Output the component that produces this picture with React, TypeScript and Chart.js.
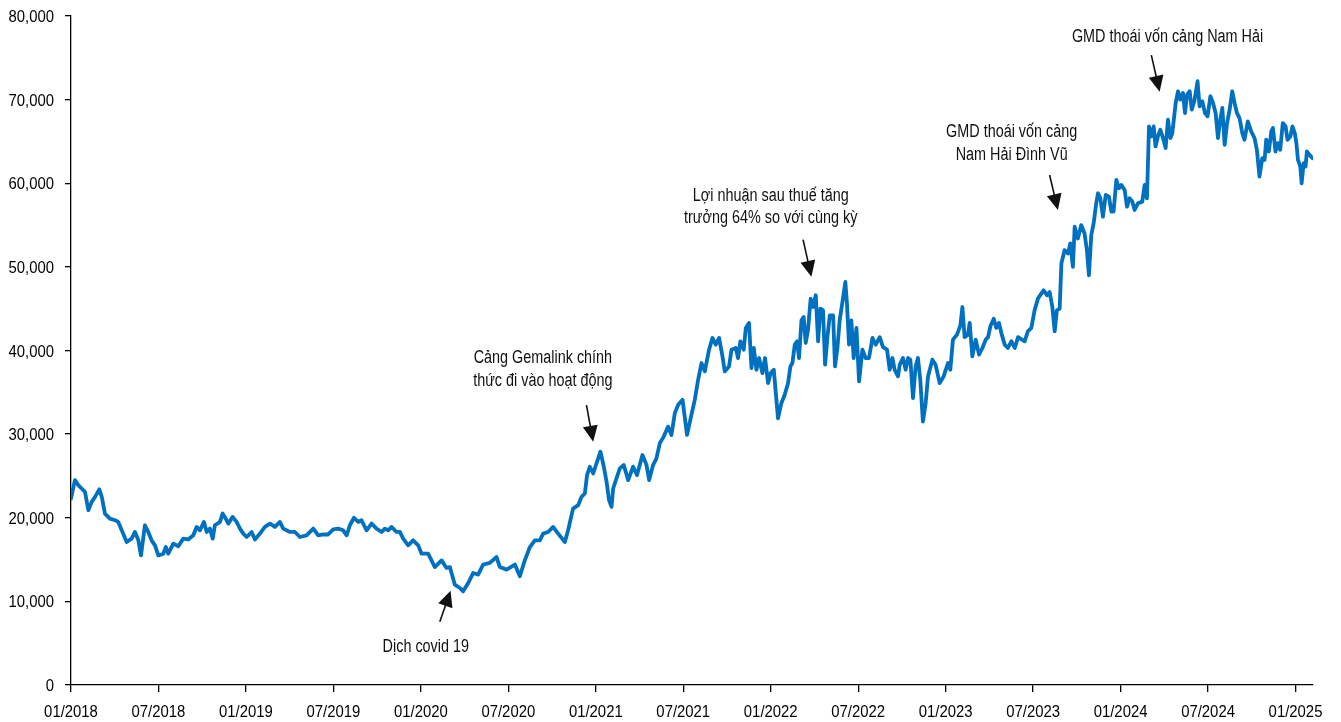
import React, { useEffect, useRef } from "react";
import { Chart, registerables } from "chart.js";

Chart.register(...registerables);

// ---- Axis labels ----
const xTickLabels = [
  "01/2018", "07/2018", "01/2019", "07/2019", "01/2020", "07/2020", "01/2021",
  "07/2021", "01/2022", "07/2022", "01/2023", "07/2023", "01/2024", "07/2024", "01/2025",
];
const yTickValues = [0, 10000, 20000, 30000, 40000, 50000, 60000, 70000, 80000];

// ---- Series: x = months since 01/2018, y = price (VND) ----
const months2018_2019 = [
  0.0, 0.27, 0.5, 0.73, 0.96, 1.19, 1.42, 1.65, 1.94, 2.11, 2.33, 2.67, 3.02, 3.24, 3.48, 3.82, 4.16, 4.39, 4.62, 4.8,
  5.07, 5.3, 5.53, 5.76, 5.99, 6.33, 6.51, 6.67, 7.02, 7.36, 7.7, 8.04, 8.39, 8.62, 8.85, 9.12, 9.31, 9.53, 9.72, 9.87,
  10.22, 10.4, 10.61, 10.79, 11.09, 11.36, 11.59, 11.82, 12.05, 12.39, 12.62, 12.96, 13.3, 13.65, 13.99, 14.33, 14.56,
  15.02, 15.36, 15.7, 16.16, 16.62, 16.96, 17.3, 17.64, 17.99, 18.33, 18.67, 18.91, 19.13, 19.41, 19.7, 19.93, 20.28,
  20.62, 20.96, 21.31, 21.53, 21.76, 21.99, 22.33, 22.56, 22.79, 23.13, 23.47, 23.82,
];
const prices2018_2019 = [
  22300, 24500, 23900, 23500, 23100, 20900, 21900, 22500, 23400, 22500, 20500, 19900, 19700, 19500, 18500, 17100, 17500,
  18300, 17300, 15500, 19100, 18300, 17300, 16700, 15500, 15700, 16500, 15700, 16900, 16600, 17500, 17400, 17900, 18900,
  18500, 19500, 18300, 18700, 17500, 19100, 19500, 20500, 19900, 19300, 20100, 19500, 18700, 18100, 17700, 18300, 17400,
  18100, 18900, 19300, 18900, 19500, 18700, 18300, 18300, 17700, 17900, 18700, 17900, 18000, 18000, 18600, 18700, 18500,
  17900, 19100, 20000, 19500, 19700, 18500, 19300, 18700, 18300, 18700, 18500, 18900, 18300, 18300, 17500, 16700, 17300,
  16700,
];

const months2020_2021 = [
  24.05, 24.5, 24.96, 25.42, 25.76, 25.99, 26.33, 26.68, 26.9, 27.25, 27.59, 27.93, 28.27, 28.73, 29.19, 29.42, 29.88,
  30.45, 30.79, 31.13, 31.48, 31.82, 32.16, 32.39, 32.73, 33.07, 33.42, 33.88, 34.1, 34.44, 34.79, 35.02, 35.25, 35.4,
  35.59, 35.82, 36.05, 36.32, 36.55, 36.74, 36.91, 37.08, 37.19, 37.42, 37.65, 37.92, 38.22, 38.56, 38.83, 39.2, 39.48,
  39.66, 39.93, 40.16, 40.39, 40.66, 40.96, 41.19, 41.42, 41.65, 41.95, 42.26, 42.56, 42.79, 43.02, 43.25, 43.48,
];
const prices2020_2021 = [
  15700, 15700, 14100, 14900, 14000, 14100, 12000, 11600, 11200, 12200, 13400, 13200, 14400, 14600, 15300, 14100, 13800,
  14400, 13000, 14900, 16500, 17300, 17300, 18100, 18300, 18900, 18100, 17100, 18500, 21100, 21500, 22500, 22900, 25100,
  26100, 25300, 26500, 27900, 26100, 24300, 22100, 21300, 23500, 24700, 25900, 26300, 24500, 26100, 25100, 27500, 26300,
  24500, 26300, 27100, 28900, 29700, 30900, 29900, 32500, 33500, 34100, 29900, 32300, 34100, 36500, 38500, 37500,
];

const months2021_2023 = [
  43.77, 44.0, 44.23, 44.46, 44.69, 44.85, 45.14, 45.31, 45.6, 45.76, 45.92, 46.15, 46.29, 46.51, 46.68, 46.84, 47.02,
  47.2, 47.43, 47.61, 47.82, 48.0, 48.21, 48.5, 48.73, 48.96, 49.19, 49.35, 49.49, 49.65, 49.81, 49.94, 50.11, 50.26,
  50.4, 50.56, 50.74, 50.9, 51.09, 51.25, 51.41, 51.59, 51.73, 51.89, 52.05, 52.28, 52.41, 52.58, 52.73, 52.92, 53.12,
  53.23, 53.37, 53.53, 53.69, 53.88, 54.06, 54.29, 54.51, 54.74, 54.98, 55.2, 55.48, 55.7, 55.98, 56.16, 56.35, 56.5,
  56.73, 56.85, 57.07, 57.26, 57.42, 57.58, 57.76, 57.94, 58.1, 58.26, 58.44, 58.63, 58.79, 59.09, 59.31, 59.59, 59.86,
  60.16, 60.32, 60.5, 60.78, 61.01, 61.15, 61.3, 61.53, 61.65, 61.83, 62.06, 62.29, 62.52, 62.75, 62.91, 63.07, 63.3,
  63.48, 63.66, 63.82, 64.05, 64.27, 64.51, 64.74, 64.97,
];
const prices2021_2023 = [
  40100, 41500, 40700, 41500, 39300, 37500, 38100, 40100, 40300, 39100, 41100, 40100, 42700, 43300, 37900, 40300, 37700,
  39100, 37300, 39100, 36100, 37300, 37700, 31900, 33700, 34700, 36100, 38100, 38500, 40700, 41100, 39100, 43600, 44000,
  40900, 42500, 46200, 45200, 46600, 41100, 45000, 44800, 38300, 41600, 44200, 44200, 38100, 40400, 43600, 45800, 48200,
  45600, 40700, 43600, 39100, 42700, 36300, 40100, 39100, 39100, 41500, 40700, 41600, 40400, 40100, 37700, 39100, 37700,
  36900, 38300, 39100, 37700, 39100, 38900, 34300, 38100, 39100, 36500, 31500, 33700, 36900, 38900, 38300, 36100, 36900,
  38500, 37700, 41300, 41900, 43000, 45200, 41600, 41900, 43300, 39300, 41300, 39500, 40300, 41300, 41600, 42900, 43800,
  42700, 43300, 42100, 40700, 40300, 41100, 40300, 41600,
];

const months2023_2025 = [
  65.42, 65.64, 65.88, 66.1, 66.33, 66.56, 66.72, 66.95, 67.13, 67.32, 67.48, 67.63, 67.82, 67.94, 68.16, 68.39, 68.55,
  68.73, 68.85, 69.07, 69.3, 69.53, 69.69, 69.83, 69.99, 70.15, 70.33, 70.45, 70.61, 70.79, 70.98, 71.2, 71.37, 71.52,
  71.71, 71.88, 72.05, 72.28, 72.44, 72.62, 72.81, 72.96, 73.19, 73.49, 73.65, 73.81, 73.95, 74.11, 74.27, 74.4, 74.56,
  74.73, 74.91, 75.09, 75.25, 75.42, 75.55, 75.78, 75.94, 76.1, 76.28, 76.42, 76.56, 76.74, 76.88, 77.06, 77.28, 77.42,
  77.61, 77.79, 77.97, 78.16, 78.34, 78.52, 78.68, 78.84, 78.98, 79.14, 79.29, 79.48, 79.66, 79.82, 79.98, 80.16, 80.35,
  80.5, 80.73, 80.96, 81.19, 81.35, 81.53, 81.72, 81.88, 81.99, 82.17, 82.34, 82.45, 82.63, 82.79, 82.95, 83.13, 83.32,
  83.45, 83.65, 83.79, 83.95, 84.06, 84.17, 84.33, 84.42, 84.56, 84.69, 84.78, 84.96, 85.15,
];
const prices2023_2025 = [
  41100, 42300, 42700, 44800, 46200, 46800, 47200, 46600, 47000, 45200, 42300, 44800, 45000, 50400, 52000, 51600, 52800,
  50000, 54800, 53400, 55000, 54000, 52000, 49000, 53800, 55200, 57600, 58800, 58200, 56000, 58600, 58400, 56600, 56600,
  60400, 59400, 59800, 59200, 57200, 58200, 57800, 56800, 57600, 57800, 59800, 58200, 66800, 65600, 66800, 64400, 65600,
  66400, 65400, 64200, 67600, 65400, 66000, 69600, 71000, 70000, 70800, 68400, 70600, 71000, 68800, 69800, 72200, 69200,
  69800, 68400, 68000, 70400, 69600, 68400, 65400, 67600, 69000, 64600, 67000, 68800, 71000, 69600, 68400, 67800, 66000,
  65200, 67400, 66200, 65400, 64000, 60800, 63000, 62800, 65200, 63800, 66200, 66600, 63800, 64800, 64000, 67200, 66800,
  65200, 65600, 66800, 66000, 64800, 62800, 62000, 60000, 62400, 62000, 63800, 63400, 63000,
];

// ---- Annotations (anchored in data space: [month, price]) ----
const annotationTexts: string[][] = [
  ["Dịch covid 19"],
  ["Cảng Gemalink chính", "thức đi vào hoạt động"],
  ["Lợi nhuận sau thuế tăng", "trưởng 64% so với cùng kỳ"],
  ["GMD thoái vốn cảng", "Nam Hải Đình Vũ"],
  ["GMD thoái vốn cảng Nam Hải"],
];
const annotationTextAnchors: [number, number][] = [
  [24.34, 3950],
  [32.37, 38500],
  [48.0, 57880],
  [64.53, 65530],
  [75.22, 76950],
];
const arrowStarts: [number, number][] = [
  [25.3, 7570],
  [35.36, 33480],
  [50.22, 53250],
  [67.13, 60990],
  [74.11, 75330],
];
const arrowTips: [number, number][] = [
  [26.04, 11280],
  [35.82, 29090],
  [50.79, 48820],
  [67.7, 56800],
  [74.68, 70950],
];

const allMonths = [...months2018_2019, ...months2020_2021, ...months2021_2023, ...months2023_2025];
const allPrices = [...prices2018_2019, ...prices2020_2021, ...prices2021_2023, ...prices2023_2025];

const FONT = "'Liberation Sans', Arial, sans-serif";

function drawSqueezed(ctx: any, text: string, x: number, y: number, sx: number) {
  ctx.save();
  ctx.translate(x, y);
  ctx.scale(sx, 1);
  ctx.fillText(text, 0, 0);
  ctx.restore();
}

// Axis tick labels (drawn slightly condensed, as in the source image)
const tickLabelPlugin = {
  id: "condensedTicks",
  afterDraw(chart: any) {
    const { ctx, scales } = chart;
    const xs = scales.x;
    const ys = scales.y;
    ctx.save();
    ctx.fillStyle = "#000";
    ctx.font = `16px ${FONT}`;
    ctx.textBaseline = "alphabetic";
    ctx.textAlign = "right";
    yTickValues.forEach((v) => {
      const py = ys.getPixelForValue(v);
      drawSqueezed(ctx, v.toLocaleString("en-US"), ys.right - 17, py + 6, 0.93);
    });
    ctx.textAlign = "center";
    xTickLabels.forEach((lab, i) => {
      const px = xs.getPixelForValue(i * 6);
      drawSqueezed(ctx, lab, px, xs.top + 32, 0.93);
    });
    ctx.restore();
  },
};

const annotationPlugin = {
  id: "arrowNotes",
  afterDatasetsDraw(chart: any) {
    const { ctx, scales } = chart;
    const xs = scales.x;
    const ys = scales.y;
    ctx.save();
    ctx.fillStyle = "#111";
    ctx.strokeStyle = "#111";
    ctx.font = `18px ${FONT}`;
    ctx.textAlign = "center";
    ctx.textBaseline = "alphabetic";
    annotationTexts.forEach((lines, i) => {
      const cx = xs.getPixelForValue(annotationTextAnchors[i][0]);
      const by = ys.getPixelForValue(annotationTextAnchors[i][1]);
      lines.forEach((line, j) => {
        drawSqueezed(ctx, line, cx, by + j * 22.5, 0.8);
      });
      const sx = xs.getPixelForValue(arrowStarts[i][0]);
      const sy = ys.getPixelForValue(arrowStarts[i][1]);
      const tx = xs.getPixelForValue(arrowTips[i][0]);
      const ty = ys.getPixelForValue(arrowTips[i][1]);
      const dx = tx - sx;
      const dy = ty - sy;
      const len = Math.hypot(dx, dy);
      const ux = dx / len;
      const uy = dy / len;
      const headLen = 16;
      const headHalf = 7.5;
      const bx = tx - ux * headLen;
      const byy = ty - uy * headLen;
      ctx.lineWidth = 1.6;
      ctx.beginPath();
      ctx.moveTo(sx, sy);
      ctx.lineTo(bx + ux * 2, byy + uy * 2);
      ctx.stroke();
      ctx.beginPath();
      ctx.moveTo(tx, ty);
      ctx.lineTo(bx - uy * headHalf, byy + ux * headHalf);
      ctx.lineTo(bx + uy * headHalf, byy - ux * headHalf);
      ctx.closePath();
      ctx.fill();
    });
    ctx.restore();
  },
};

export default function App() {
  const canvasRef = useRef<HTMLCanvasElement | null>(null);

  useEffect(() => {
    document.body.style.margin = "0";
    const canvas = canvasRef.current;
    if (!canvas) return;
    const n = Math.min(allMonths.length, allPrices.length);
    const points = [];
    for (let i = 0; i < n; i++) points.push({ x: allMonths[i], y: allPrices[i] });

    const chart = new Chart(canvas, {
      type: "line",
      data: {
        datasets: [
          {
            data: points,
            borderColor: "#0070C0",
            borderWidth: 3.8,
            pointRadius: 0,
            tension: 0,
            borderJoinStyle: "round",
            borderCapStyle: "round",
            fill: false,
          },
        ],
      },
      options: {
        responsive: false,
        animation: false,
        layout: { padding: { top: 16, right: 28, left: 0, bottom: 0 } },
        plugins: { legend: { display: false }, tooltip: { enabled: false } },
        scales: {
          x: {
            type: "linear",
            min: 0,
            max: 85.2,
            afterBuildTicks: (scale: any) => {
              scale.ticks = xTickLabels.map((_, i) => ({ value: i * 6 }));
            },
            afterFit: (scale: any) => {
              scale.height = 37;
            },
            ticks: { display: false },
            grid: { display: true, drawOnChartArea: false, drawTicks: true, tickLength: 7, color: "#000", lineWidth: 1.3 },
            border: { display: true, color: "#000", width: 1.3 },
          },
          y: {
            type: "linear",
            min: 0,
            max: 80000,
            afterBuildTicks: (scale: any) => {
              scale.ticks = yTickValues.map((v) => ({ value: v }));
            },
            afterFit: (scale: any) => {
              scale.width = 71;
            },
            ticks: { display: false },
            grid: { display: true, drawOnChartArea: false, drawTicks: true, tickLength: 6, color: "#000", lineWidth: 1.3 },
            border: { display: true, color: "#000", width: 1.3 },
          },
        },
      },
      plugins: [annotationPlugin, tickLabelPlugin],
    } as any);

    return () => {
      chart.destroy();
    };
  }, []);

  return <canvas ref={canvasRef} width={1341} height={722} style={{ display: "block" }} />;
}
